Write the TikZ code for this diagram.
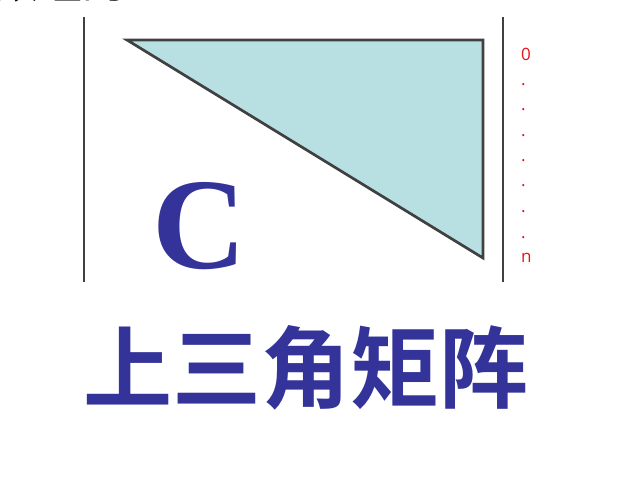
\documentclass[tikz,border=0pt]{standalone}
\usepackage{fontspec}
\setmainfont{Liberation Serif}
\newfontfamily\cjk{Noto Sans CJK SC}[BoldFont={Noto Sans CJK SC Bold}]
\newfontfamily\lbl{Open Sans}
\definecolor{mblue}{HTML}{333399}
\definecolor{tfill}{HTML}{B8DFE2}
\definecolor{tline}{HTML}{404040}
\definecolor{lred}{HTML}{E8101A}
\tikzset{
  bar/.style={line width=2.4pt, draw=tline},
  tri/.style={fill=tfill, draw=tline, line width=2.7pt, line join=miter},
  idx/.style={text=lred, font=\lbl\fontsize{17}{17}\selectfont, inner sep=0pt, anchor=base west},
}
\begin{document}
\begin{tikzpicture}[x=1pt,y=-1pt]
\useasboundingbox (0,0) rectangle (629,481);
% clipped fragment of text at the top
\begin{scope}
\clip (0,0) rectangle (629,481);
\node[anchor=base west, inner sep=0pt, font=\cjk\fontsize{44}{44}\selectfont] (frag) at (-6,-1) {数组的};
\end{scope}
% vertical bars
\coordinate (lt) at (84,17);
\coordinate (lb) at (84,282);
\coordinate (rt) at (503,17);
\coordinate (rb) at (503,282);
\draw[bar] (lt) -- (lb);
\draw[bar] (rt) -- (rb);
% triangle
\coordinate (a) at (127,40);
\coordinate (b) at (483,40);
\coordinate (c) at (483,258);
\draw[tri] (a) -- (b) -- (c) -- cycle;
% C
\node[text=mblue, inner sep=0pt, anchor=base, font=\bfseries\fontsize{130}{130}\selectfont] (C) at (199,268) {C};
% index labels
\node[idx] (i0) at (521,61) {0};
\foreach \y [count=\k] in {86,111,137,162,187,213,238}
  \node[idx] (d\k) at (521,\y) {.};
\node[idx] (in) at (521,262) {n};
% title
\node[text=mblue, inner sep=0pt, anchor=base, font=\cjk\bfseries\fontsize{89}{89}\selectfont] (title) at (306,401) {上三角矩阵};
\end{tikzpicture}
\end{document}
